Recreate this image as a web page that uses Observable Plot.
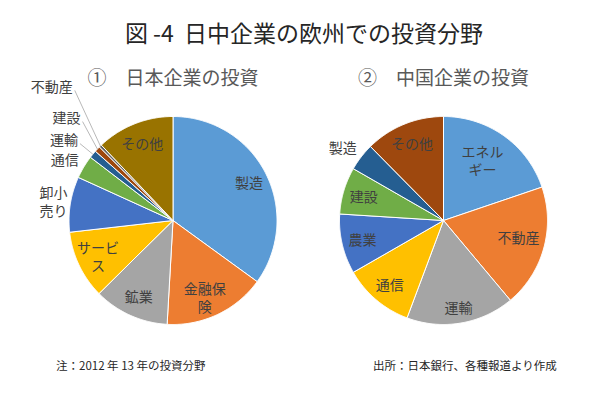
<!DOCTYPE html>
<html><head><meta charset="utf-8">
<script src="https://cdn.jsdelivr.net/npm/d3@7"></script>
<script src="https://cdn.jsdelivr.net/npm/@observablehq/plot@0.6"></script>
<style>
body{margin:0;background:#fff;font-family:"Noto Sans CJK JP","Noto Sans",sans-serif;}
#wrap{width:600px;height:394px;position:relative;overflow:hidden;background:#fff}
#title{height:60px;line-height:64px;text-align:center;font-size:23px;color:#262626;padding-left:8px;box-sizing:border-box;white-space:pre}
#foot{position:relative;height:44px;font-size:11.5px;color:#262626}
#foot span{position:absolute;top:7px;line-height:17px;white-space:pre}
</style></head><body>
<div id="wrap">
<div id="title">図 -4&nbsp; 日中企業の欧州での投資分野</div>
<div id="chart"></div>
<div id="foot"><span id="noteL" style="left:56px"></span><span id="noteR" style="left:373px"></span></div>
</div>
<script>
// ---- data ----
const panelTitles = ["①\u3000日本企業の投資", "②\u3000中国企業の投資"];
const jpCategories = ["製造","金融保険","鉱業","サービス","卸小売り","通信","運輸","建設","不動産","その他"];
const jpValues = [35, 15.9, 11.7, 10.6, 8.6, 3.6, 1.2, 0.9, 0.4, 12.1];
const cnCategories = ["エネルギー","不動産","運輸","通信","農業","建設","製造","その他"];
const cnValues = [19.8, 19.1, 16.8, 11.0, 9.3, 7.3, 4.3, 12.4];
const noteText = "注：2012 年 13 年の投資分野";
const sourceText = "出所：日本銀行、各種報道より作成";

// ---- styles / layout ----
const jpColors = ["#5b9bd5","#ed7d31","#a5a5a5","#ffc000","#4472c4","#70ad47","#255e91","#9e480e","#636363","#997300"];
const cnColors = ["#5b9bd5","#ed7d31","#a5a5a5","#ffc000","#4472c4","#70ad47","#255e91","#9e480e"];
const labelText = {"金融保険":"金融保\n険","サービス":"サービ\nス","卸小売り":"卸小\n売り","エネルギー":"エネル\nギー"};
const jpPlace = {
  "卸小売り":{da:1.3, r:1.03, out:true},
  "通信":{da:1.9, r:1.08, out:true},
  "運輸":{da:0.8, r:1.2, out:true, leader:true},
  "建設":{da:4.7, r:1.33, out:true, leader:true},
  "不動産":{da:7.5, r:1.61, out:true, leader:true},
  "金融保険":{da:3, r:0.8},
  "製造":{r:0.82}
};
const cnPlace = {
  "製造":{da:2.5, r:1.09, out:true},
  "エネルギー":{da:-2.8, r:0.69},
  "不動産":{da:-3, r:0.74},
  "運輸":{r:0.85}
};
const R = 104, W = 600, H = 290, cy = 160;
const centers = [172.5, 443];
const titleLift = 0.36;

document.getElementById("noteL").textContent = noteText;
document.getElementById("noteR").textContent = sourceText;

const polys = [], labels = [], leaders = [], heads = [];
function build(cats, vals, colors, pi, place) {
  const arcs = d3.pie().sort(null).value(d => d)(vals);
  const cxu = (centers[pi] - centers[0]) / R;
  heads.push({x: cxu, y: 1 + titleLift, t: panelTitles[pi]});
  arcs.forEach((a, i) => {
    const key = pi + "-" + i;
    polys.push({key, x: cxu, y: 0, color: colors[i]});
    const n = Math.max(2, Math.ceil((a.endAngle - a.startAngle) / 0.01));
    for (let k = 0; k <= n; k++) {
      const t = a.startAngle + (a.endAngle - a.startAngle) * k / n;
      polys.push({key, x: cxu + Math.sin(t), y: Math.cos(t), color: colors[i]});
    }
    polys.push({key, x: cxu, y: 0, color: colors[i]});
    const mid = (a.startAngle + a.endAngle) / 2;
    const p = place[cats[i]] || {};
    const ang = mid + (p.da || 0) * Math.PI / 180;
    const r = p.r ?? 0.8;
    const lx = cxu + r * Math.sin(ang), ly = r * Math.cos(ang);
    labels.push({text: labelText[cats[i]] || cats[i], x: lx, y: ly, out: !!p.out});
    if (p.leader) leaders.push({x1: cxu + Math.sin(mid), y1: Math.cos(mid), x2: lx + 2 / R, y2: ly - 4 / R});
  });
}
build(jpCategories, jpValues, jpColors, 0, jpPlace);
build(cnCategories, cnValues, cnColors, 1, cnPlace);

const font = '"Noto Sans CJK JP", sans-serif';
const chart = Plot.plot({
  width: W, height: H, margin: 0,
  x: {domain: [-centers[0] / R, (W - centers[0]) / R], axis: null},
  y: {domain: [-(H - cy) / R, cy / R], axis: null},
  color: {type: "identity"},
  style: {fontFamily: font, background: "white"},
  marks: [
    Plot.line(polys, {x: "x", y: "y", z: "key", fill: "color", stroke: "white", strokeWidth: 1, curve: "linear", strokeLinejoin: "miter"}),
    Plot.link(leaders, {x1: "x1", y1: "y1", x2: "x2", y2: "y2", stroke: "#a6a6a6", strokeWidth: 0.8}),
    Plot.text(labels.filter(d => !d.out), {x: "x", y: "y", text: "text", fontSize: 14, fill: "#404040", lineHeight: 1.3, fontFamily: font}),
    Plot.text(labels.filter(d => d.out), {x: "x", y: "y", text: "text", fontSize: 14, fill: "#404040", lineHeight: 1.3, textAnchor: "end", fontFamily: font}),
    Plot.text(heads, {x: "x", y: "y", text: "t", fontSize: 19, fill: "#595959", fontFamily: font})
  ]
});
document.getElementById("chart").appendChild(chart);
</script>
</body></html>
